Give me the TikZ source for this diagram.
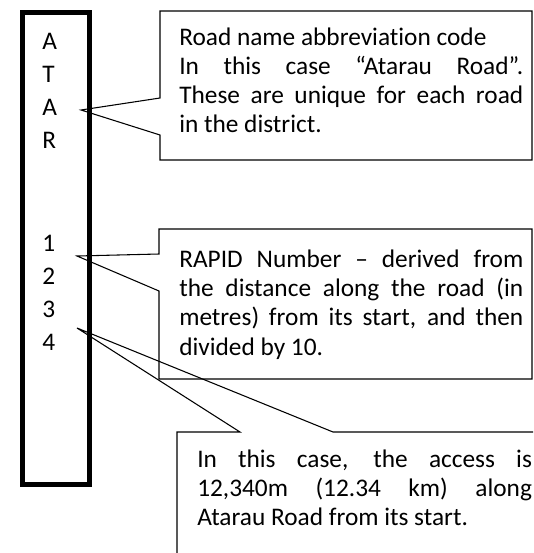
\documentclass[tikz,border=0pt]{standalone}
\usepackage{fontspec}
\setmainfont{Carlito}[Ligatures=NoCommon]
\begin{document}
\begin{tikzpicture}[x=0.75pt,y=-0.75pt,
  callout/.style={line width=0.8pt},
  note/.style={anchor=base west, inner sep=0pt, text width=258pt, align=justify,
    font=\fontsize{19}{22}\selectfont},
  code/.style={anchor=base west, inner sep=0pt, font=\fontsize{19}{22}\selectfont}]

\pgfmathsetmacro{\codestep}{33}
\useasboundingbox (0,0) rectangle (533,553);
\clip (0,0) rectangle (533,553);

% Post outline:
\draw[line width=3.75pt] (22.5,12) rectangle (89.5,484);

% Code down the post:
\foreach \ch [count=\i] in {A,T,A,R}
  \node[code] (ltr\i) at (42,{49+(\i-1)*\codestep}) {\ch};
\foreach \ch [count=\i] in {1,2,3,4}
  \node[code] (dgt\i) at (42,{251+(\i-1)*\codestep}) {\ch};

% Callout tips:
\coordinate (tipname) at (81,110);
\coordinate (tipnum) at (77,256);
\coordinate (tipdist) at (77,328);

% Callout outlines:
\draw[callout] (160,98) -- (tipname) -- (160,135) -- (160,160) -- (532,160)
  -- (532,11) -- (160,11) -- cycle;
\draw[callout] (159,254) -- (tipnum) -- (159,291) -- (159,379) -- (532,379)
  -- (532,229) -- (159,229) -- cycle;
\draw[callout] (240,432) -- (tipdist) -- (333,432) -- (560,432) -- (560,580)
  -- (177,580) -- (177,432) -- cycle;

% Callout texts:
\node[note] (nametext) at (179,45) {Road name abbreviation code\\
  In this case “Atarau Road”.\linebreak These are unique for each road\linebreak in the district.};
\node[note] (numtext) at (179,267) {RAPID Number – derived from\linebreak
  the distance along the road (in\linebreak metres) from its start, and then\linebreak divided by 10.};
\node[note, text width=251pt] (disttext) at (197,467) {In this case, the access is\linebreak
  12,340m (12.34 km) along\linebreak Atarau Road from its start.};

\end{tikzpicture}
\end{document}
